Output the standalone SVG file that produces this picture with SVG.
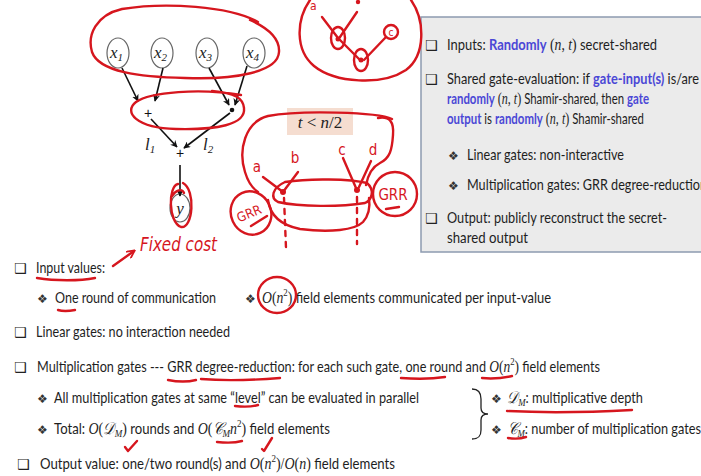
<svg xmlns="http://www.w3.org/2000/svg" width="701" height="476" viewBox="0 0 701 476">
<defs>
<style>
.t{font-family:Lato,"Liberation Sans",sans-serif;font-size:16px;fill:#1e1e1e}
.m{font-family:"Liberation Serif",serif;font-style:italic;font-size:17px}
.mu{font-family:"Liberation Serif",serif;font-style:normal;font-size:17px}
.sup{font-family:"Liberation Serif",serif;font-size:11px}
.sub{font-family:"Liberation Serif",serif;font-style:italic;font-size:11px}
.bl{fill:#4a47d6;font-weight:bold}
.bx{font-family:"DejaVu Sans",sans-serif;font-size:14px;fill:#222}
.bul{font-family:"DejaVu Sans",sans-serif;font-size:12px;fill:#333}
.r{stroke:#d6161e;stroke-width:2.4;fill:none;stroke-linecap:round;stroke-linejoin:round}
.hw{font-family:"DejaVu Sans Condensed","DejaVu Sans",sans-serif;fill:#d6161e}
.node{fill:#fff;stroke:#666;stroke-width:1.2}
.lbl{font-family:"Liberation Serif",serif;font-style:italic;font-size:17px;fill:#222}
.ar{stroke:#111;stroke-width:1.6;fill:none;marker-end:url(#ah)}
</style>
<marker id="ah" viewBox="0 0 10 10" refX="9" refY="5" markerWidth="7" markerHeight="7" orient="auto-start-reverse" markerUnits="userSpaceOnUse">
<path d="M0,0 L10,5 L0,10 L3,5 Z" fill="#111"/>
</marker>
<marker id="rah" viewBox="0 0 10 10" refX="8" refY="5" markerWidth="9" markerHeight="9" orient="auto" markerUnits="userSpaceOnUse">
<path d="M1,1 L9,5 L1,9" fill="none" stroke="#d6161e" stroke-width="2" stroke-linecap="round"/>
</marker>
</defs>

<!-- right info box -->
<g id="infobox">
<rect x="421" y="17" width="300" height="235" fill="#ebebeb" stroke="#8d9bb0" stroke-width="1.5"/>
<text class="bx" x="425" y="50">❑</text>
<text class="t" x="447" y="50" textLength="210" lengthAdjust="spacingAndGlyphs">Inputs: <tspan class="bl">Randomly</tspan> <tspan class="mu">(</tspan><tspan class="m">n</tspan><tspan class="mu">, </tspan><tspan class="m">t</tspan><tspan class="mu">)</tspan> secret-shared</text>
<text class="bx" x="425" y="84">❑</text>
<text class="t" x="447" y="84" textLength="252" lengthAdjust="spacingAndGlyphs">Shared gate-evaluation: if <tspan class="bl">gate-input(s)</tspan> is/are</text>
<text class="t" x="447" y="104" textLength="202" lengthAdjust="spacingAndGlyphs"><tspan class="bl">randomly</tspan> <tspan class="mu">(</tspan><tspan class="m">n</tspan><tspan class="mu">, </tspan><tspan class="m">t</tspan><tspan class="mu">)</tspan> Shamir-shared, then <tspan class="bl">gate</tspan></text>
<text class="t" x="447" y="124" textLength="197" lengthAdjust="spacingAndGlyphs"><tspan class="bl">output</tspan> is <tspan class="bl">randomly</tspan> <tspan class="mu">(</tspan><tspan class="m">n</tspan><tspan class="mu">, </tspan><tspan class="m">t</tspan><tspan class="mu">)</tspan> Shamir-shared</text>
<text class="bul" x="448" y="160">❖</text>
<text class="t" x="467" y="160" textLength="157" lengthAdjust="spacingAndGlyphs">Linear gates: non-interactive</text>
<text class="bul" x="448" y="190">❖</text>
<text class="t" x="467" y="190" textLength="240" lengthAdjust="spacingAndGlyphs">Multiplication gates: GRR degree-reduction</text>
<text class="bx" x="425" y="223">❑</text>
<text class="t" x="447" y="223" textLength="220" lengthAdjust="spacingAndGlyphs">Output: publicly reconstruct the secret-</text>
<text class="t" x="447" y="243" textLength="81" lengthAdjust="spacingAndGlyphs">shared output</text>
</g>

<!-- circuit nodes -->
<g id="x1"><ellipse class="node" cx="118" cy="53" rx="11" ry="15"/><text class="lbl" x="110" y="58">x<tspan font-size="11" dy="3">1</tspan></text></g>
<g id="x2"><ellipse class="node" cx="162" cy="53" rx="11" ry="15"/><text class="lbl" x="154" y="58">x<tspan font-size="11" dy="3">2</tspan></text></g>
<g id="x3"><ellipse class="node" cx="207" cy="53" rx="11" ry="15"/><text class="lbl" x="199" y="58">x<tspan font-size="11" dy="3">3</tspan></text></g>
<g id="x4"><ellipse class="node" cx="254" cy="53" rx="11" ry="15"/><text class="lbl" x="246" y="58">x<tspan font-size="11" dy="3">4</tspan></text></g>
<g id="gate-add1"><text x="148" y="118" font-family="Liberation Sans,sans-serif" font-size="14" text-anchor="middle" fill="#111">+</text></g>
<g id="gate-mul"><circle cx="232" cy="110" r="2.3" fill="#111"/></g>
<g id="gate-add2"><text x="180" y="158" font-family="Liberation Sans,sans-serif" font-size="14" text-anchor="middle" fill="#111">+</text></g>
<g id="y"><ellipse class="node" cx="180" cy="208" rx="10" ry="14"/><text class="lbl" x="180" y="214" text-anchor="middle">y</text></g>
<g id="wire-labels">
<text class="lbl" x="145" y="150">l<tspan font-size="11" dy="3">1</tspan></text>
<text class="lbl" x="203" y="150">l<tspan font-size="11" dy="3">2</tspan></text>
</g>

<g id="connectors">
<line class="ar" x1="122" y1="68" x2="138" y2="101"/>
<line class="ar" x1="163" y1="68" x2="155" y2="101"/>
<line class="ar" x1="209" y1="68" x2="229" y2="105"/>
<line class="ar" x1="247" y1="66" x2="235" y2="105"/>
<line class="ar" x1="151" y1="119" x2="177" y2="147"/>
<line class="ar" x1="230" y1="113" x2="184" y2="148"/>
<line class="ar" x1="180" y1="165" x2="180" y2="196"/>
</g>

<!-- red annotations on circuit -->
<g id="ink-circuit">
<path class="r" d="M258,22 C230,6 165,2 122,9 C96,15 87,35 92,52 C99,72 140,77 185,78 C235,80 278,72 279,52 C280,38 268,28 250,20"/>
<path class="r" d="M241,95 C200,88 150,92 136,102 C123,112 136,128 176,129 C216,130 246,125 244,108 C243,98 235,93 212,91"/>
<path class="r" d="M172,196 C176,190 182,188 184,193 M178,184 C168,186 168,222 181,227 C193,229 196,190 183,183"/>
</g>

<!-- top-middle sketch -->
<g id="sketch-top">
<path class="r" d="M310,0 C296,20 295,50 314,66 C335,83 382,86 406,70 C426,55 425,20 411,0"/>
<text class="hw" x="310" y="10" font-size="12">a</text>
<circle cx="358" cy="2" r="2.2" fill="#d6161e"/>
<path class="r" d="M322,17 L338,38 M357,12 L340,37 M340,40 L360,60 M364,60 L386,37"/>
<ellipse class="r" cx="338" cy="38" rx="7" ry="11"/>
<circle cx="338" cy="39" r="2.5" fill="#d6161e"/>
<ellipse class="r" cx="361" cy="60" rx="7" ry="11"/>
<circle cx="361" cy="60" r="2.5" fill="#d6161e"/>
<circle class="r" cx="391" cy="32" r="7"/>
<text class="hw" x="391" y="36" font-size="10" text-anchor="middle">c</text>
</g>

<!-- bottom-middle sketch -->
<g id="sketch-mid">
<rect x="287" y="108" width="66" height="27" fill="#f5ddd0"/>
<text x="320" y="128" font-family="Liberation Serif,serif" font-size="17" text-anchor="middle" fill="#222"><tspan font-style="italic">t</tspan> &lt; <tspan font-style="italic">n</tspan>/2</text>
<path class="r" d="M392,119 C378,112 300,110 268,116 C245,122 238,150 245,172 C248,182 252,188 258,192"/>
<path class="r" d="M268,200 C270,215 280,225 300,229 C330,233 355,230 363,222 C370,214 370,205 369,198"/>
<path class="r" d="M378,118 C390,116 394,122 393,135 C392,150 390,158 380,163 C372,167 368,175 366,185"/>
<path class="r" d="M285,182 C310,178 350,179 367,183 C375,190 372,200 365,203 C340,207 300,207 278,202 C270,198 272,188 285,182"/>
<circle cx="283" cy="192" r="3" fill="#d6161e"/>
<circle cx="357" cy="190" r="3" fill="#d6161e"/>
<path class="r" d="M263,177 L283,192 M298,172 L283,192 M343,158 L356,188 M371,161 L359,187"/>
<path class="r" stroke-width="2" stroke-dasharray="5 6" d="M284,198 L286,248 M357,197 L357,244"/>
<text class="hw" x="257" y="172" font-size="15" text-anchor="middle">a</text>
<text class="hw" x="295" y="163" font-size="15" text-anchor="middle">b</text>
<text class="hw" x="342" y="155" font-size="15" text-anchor="middle">c</text>
<text class="hw" x="373" y="155" font-size="15" text-anchor="middle">d</text>
<ellipse class="r" cx="251" cy="213" rx="20" ry="22" transform="rotate(-25 251 213)"/>
<text class="hw" x="249" y="218" font-size="13" text-anchor="middle" transform="rotate(-22 249 213)">GRR</text>
<path class="r" d="M251,226 L267,216"/>
<circle class="r" cx="395" cy="194" r="22"/>
<text class="hw" x="393" y="200" font-size="15" text-anchor="middle">GRR</text>
<path class="r" d="M386,209 L399,207"/>
</g>

<!-- Fixed cost annotation -->
<g id="fixed-cost">
<text class="hw" x="140" y="251" font-size="19" font-style="italic" textLength="77" lengthAdjust="spacingAndGlyphs">Fixed cost</text>
<line class="r" x1="113" y1="266" x2="134" y2="251" marker-end="url(#rah)"/>
</g>

<!-- bottom text -->
<g id="bottom-text">
<text class="bx" x="14" y="273">❑</text>
<text class="t" x="36" y="273" textLength="69" lengthAdjust="spacingAndGlyphs">Input values:</text>
<text class="bul" x="37" y="303">❖</text>
<text class="t" x="55" y="303" textLength="161" lengthAdjust="spacingAndGlyphs">One round of communication</text>
<text class="bul" x="245" y="303">❖</text>
<text class="t" x="262" y="303" textLength="289" lengthAdjust="spacingAndGlyphs"><tspan class="m">O</tspan><tspan class="mu">(</tspan><tspan class="m">n</tspan><tspan class="sup" dy="-7">2</tspan><tspan class="mu" dy="7">)</tspan> field elements communicated per input-value</text>
<text class="bx" x="14" y="337">❑</text>
<text class="t" x="36" y="337" textLength="194" lengthAdjust="spacingAndGlyphs">Linear gates: no interaction needed</text>
<text class="bx" x="14" y="372">❑</text>
<text class="t" x="37" y="372" textLength="563" lengthAdjust="spacingAndGlyphs">Multiplication gates --- GRR degree-reduction: for each such gate, one round and <tspan class="m">O</tspan><tspan class="mu">(</tspan><tspan class="m">n</tspan><tspan class="sup" dy="-7">2</tspan><tspan class="mu" dy="7">)</tspan> field elements</text>
<text class="bul" x="37" y="403">❖</text>
<text class="t" x="54" y="403" textLength="365" lengthAdjust="spacingAndGlyphs">All multiplication gates at same “level” can be evaluated in parallel</text>
<text class="bul" x="37" y="434">❖</text>
<text class="t" x="54" y="434" textLength="276" lengthAdjust="spacingAndGlyphs">Total: <tspan class="m">O</tspan><tspan class="mu">(</tspan><tspan class="m">𝒟</tspan><tspan class="sub" dy="3">M</tspan><tspan class="mu" dy="-3">)</tspan> rounds and <tspan class="m">O</tspan><tspan class="mu">(</tspan><tspan class="m">𝒞</tspan><tspan class="sub" dy="3">M</tspan><tspan class="m" dy="-3">n</tspan><tspan class="sup" dy="-7">2</tspan><tspan class="mu" dy="7">)</tspan> field elements</text>
<text class="bx" x="17" y="469">❑</text>
<text class="t" x="40" y="469" textLength="355" lengthAdjust="spacingAndGlyphs">Output value: one/two round(s) and <tspan class="m">O</tspan><tspan class="mu">(</tspan><tspan class="m">n</tspan><tspan class="sup" dy="-7">2</tspan><tspan class="mu" dy="7">)/</tspan><tspan class="m">O</tspan><tspan class="mu">(</tspan><tspan class="m">n</tspan><tspan class="mu">)</tspan> field elements</text>
<path d="M472,389 C479,389 481,393 481,399 L481,408 C481,412 484,414 488,414 C484,414 481,416 481,420 L481,430 C481,436 479,439 472,439" fill="none" stroke="#222" stroke-width="1.3"/>
<text class="bul" x="491" y="403">❖</text>
<text class="t" x="507" y="403" textLength="136" lengthAdjust="spacingAndGlyphs"><tspan class="m">𝒟</tspan><tspan class="sub" dy="3">M</tspan><tspan dy="-3">: multiplicative depth</tspan></text>
<text class="bul" x="491" y="434">❖</text>
<text class="t" x="508" y="434" textLength="193" lengthAdjust="spacingAndGlyphs"><tspan class="m">𝒞</tspan><tspan class="sub" dy="3">M</tspan><tspan dy="-3">: number of multiplication gates</tspan></text>
</g>

<!-- red marks on bottom text -->
<g id="ink-text">
<path class="r" d="M37,278 C55,281 80,281 95,278"/>
<path class="r" d="M58,310 C64,312 70,311 75,310"/>
<ellipse class="r" cx="277" cy="295" rx="19" ry="18"/>
<path class="r" d="M168,380 C178,382 188,382 196,380"/>
<path class="r" d="M201,379 C225,381 255,380 280,378"/>
<path class="r" d="M401,378 C415,379 432,379 445,377"/>
<path class="r" d="M482,378 C492,379 503,378 512,376"/>
<path class="r" d="M235,406 C243,407 251,407 258,405"/>
<path class="r" d="M217,442 C226,443 235,443 242,441"/>
<path class="r" d="M125,447 L128,451 L137,441"/>
<path class="r" d="M262,449 L264,451 L272,438"/>
<path class="r" d="M507,411 C545,413 595,412 632,410"/>
<path class="r" d="M508,438 C514,439 520,439 526,437"/>
</g>
</svg>
